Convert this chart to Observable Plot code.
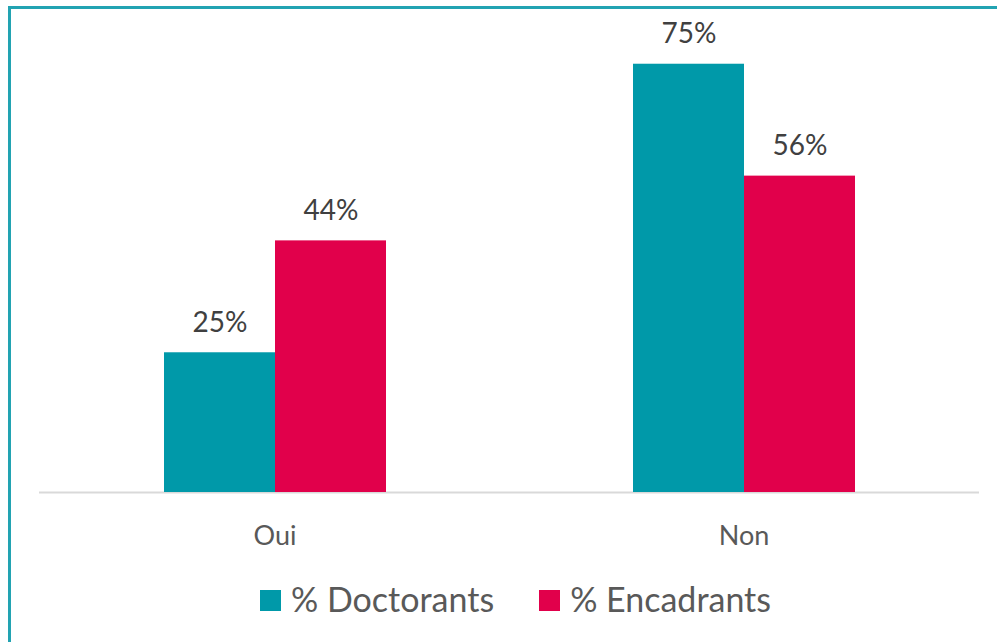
<!DOCTYPE html>
<html>
<head>
<meta charset="utf-8">
<script src="https://cdn.jsdelivr.net/npm/d3@7"></script>
<script src="https://cdn.jsdelivr.net/npm/@observablehq/plot@0.6"></script>
<style>
  html, body { margin: 0; padding: 0; background: #fff; overflow: hidden; width: 997px; height: 642px; }
  body { position: relative; font-family: Lato, "Open Sans", sans-serif; }
  #frame { position: absolute; left: 8px; top: 6px; width: 1100px; height: 800px; border-left: 3px solid #22a3b2; border-top: 3px solid #22a3b2; box-sizing: border-box; }
  #base, #chart { position: absolute; left: 0; top: 0; }
  #legend { position: absolute; left: 260px; top: 578px; display: flex; align-items: center; font-size: 34px; color: #595959; white-space: nowrap; }
  .item { display: flex; align-items: center; }
  .sw { width: 21px; height: 21px; margin-right: 10px; margin-top: 4px; }
</style>
</head>
<body>
<div id="frame"></div>
<div id="base"></div>
<div id="chart"></div>
<div id="legend"></div>
<script>
const categories = ["Oui", "Non"];
const series = ["% Doctorants", "% Encadrants"];
const doctorants = [24.6, 75.4];
const encadrants = [44.3, 55.7];
const colors = ["#0099a9", "#e1004b"];

const data = categories.flatMap((c, i) => [
  {category: c, series: series[0], value: doctorants[i]},
  {category: c, series: series[1], value: encadrants[i]}
]);

const dims = {width: 997, height: 560, marginLeft: 39, marginRight: 18, marginTop: 37.6, marginBottom: 68};
const yScale = {domain: [0, 80], axis: null};

// baseline layer (full plot width)
const base = Plot.plot({
  ...dims,
  style: {background: "transparent"},
  x: {axis: null},
  y: yScale,
  marks: [Plot.ruleY([0], {stroke: "#d9d9d9", strokeWidth: 2})]
});
document.getElementById("base").appendChild(base);

const chart = Plot.plot({
  ...dims,
  style: {fontFamily: "Lato, 'Open Sans', sans-serif", fontSize: "27px", color: "#595959", background: "transparent"},
  fx: {domain: categories, paddingInner: 0.525, paddingOuter: 0.2636, label: null, tickSize: 0, tickPadding: 33},
  x: {domain: series, padding: 0, axis: null},
  y: yScale,
  color: {domain: series, range: colors},
  marks: [
    Plot.barY(data, {fx: "category", x: "series", y: "value", fill: "series"}),
    Plot.text(data, {fx: "category", x: "series", y: "value", text: d => Math.round(d.value) + "%", lineAnchor: "bottom", dy: -21, fill: "#404040", fontSize: 28})
  ]
});
document.getElementById("chart").appendChild(chart);

const legend = document.getElementById("legend");
series.forEach((s, i) => {
  const item = document.createElement("div");
  item.className = "item";
  item.style.marginRight = i === 0 ? "45px" : "0";
  const sw = document.createElement("div");
  sw.className = "sw";
  sw.style.background = colors[i];
  const label = document.createElement("span");
  label.textContent = s;
  item.appendChild(sw);
  item.appendChild(label);
  legend.appendChild(item);
});
</script>
</body>
</html>
